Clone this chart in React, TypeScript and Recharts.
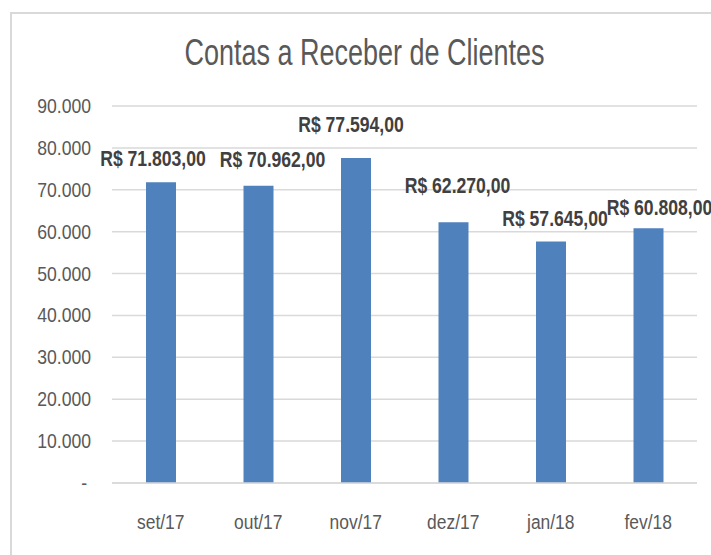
import React from 'react';
import { BarChart, Bar, XAxis, YAxis, CartesianGrid } from 'recharts';

const categories = ['set/17', 'out/17', 'nov/17', 'dez/17', 'jan/18', 'fev/18'];
const values = [71803, 70962, 77594, 62270, 57645, 60808];
const yTicks = [0, 10000, 20000, 30000, 40000, 50000, 60000, 70000, 80000, 90000];
const title = 'Contas a Receber de Clientes';

// label placement tweaks (styling, not data)
const labelDx = [-8, 14, -5, 4, 4, 11];
const labelDy = [-16, -19, -26, -29, -16, -13];

const data = categories.map((c, i) => ({ name: c, value: values[i] }));

const FONT = '"Liberation Sans", Arial, sans-serif';

const fmtThousands = (v: number) => {
  const s = String(Math.round(v));
  return s.replace(/\B(?=(\d{3})+(?!\d))/g, '.');
};
const fmtY = (v: number) => (v === 0 ? '-' : fmtThousands(v));
const fmtLabel = (v: number) => 'R$ ' + fmtThousands(v) + ',00';

const SText = (p: {
  x: number;
  y: number;
  sx: number;
  size: number;
  anchor: 'start' | 'middle' | 'end';
  fill: string;
  bold?: boolean;
  children: React.ReactNode;
}) => (
  <text
    transform={`translate(${p.x},${p.y}) scale(${p.sx},1)`}
    x={0}
    y={0}
    textAnchor={p.anchor}
    fontFamily={FONT}
    fontWeight={p.bold ? 'bold' : 'normal'}
    fontSize={p.size}
    fill={p.fill}
  >
    {p.children}
  </text>
);

const renderLabel = (props: any) => {
  const { x, y, width, index, value } = props;
  return (
    <SText
      x={x + width / 2 + labelDx[index]}
      y={y + labelDy[index]}
      sx={0.8}
      size={22}
      anchor="middle"
      fill="#404040"
      bold
    >
      {fmtLabel(value)}
    </SText>
  );
};

const YTick = (props: any) => {
  const { x, y, payload } = props;
  const isZero = payload.value === 0;
  return (
    <SText x={isZero ? x - 4 : x} y={y + 7} sx={0.88} size={20} anchor="end" fill="#595959">
      {fmtY(payload.value)}
    </SText>
  );
};

const XTick = (props: any) => {
  const { x, y, payload } = props;
  return (
    <SText x={x} y={y + 44} sx={0.83} size={21} anchor="middle" fill="#595959">
      {payload.value}
    </SText>
  );
};

export default function App() {
  return (
    <div style={{ position: 'absolute', left: 0, top: 0, width: 711, height: 555, background: '#fff', overflow: 'hidden' }}>
      <div
        style={{
          position: 'absolute',
          left: 10,
          top: 12,
          width: 760,
          height: 600,
          borderLeft: '2px solid #d9d9d9',
          borderTop: '2px solid #d9d9d9',
          boxSizing: 'border-box',
        }}
      />
      <div style={{ position: 'absolute', left: 0, top: 0 }}>
        <BarChart
          width={711}
          height={555}
          data={data}
          margin={{ top: 106, right: 14, bottom: 0, left: 0 }}
        >
          <text
            transform="translate(364.5,65) scale(0.75,1)"
            x={0}
            y={0}
            textAnchor="middle"
            fontFamily={FONT}
            fontSize={36}
            fill="#595959"
          >
            {title}
          </text>
          <CartesianGrid vertical={false} stroke="#d9d9d9" strokeWidth={1.5} />
          <XAxis
            dataKey="name"
            height={72}
            axisLine={{ stroke: '#d9d9d9', strokeWidth: 1.5 }}
            tickLine={false}
            tickSize={0}
            tick={<XTick />}
            interval={0}
          />
          <YAxis
            width={112}
            domain={[0, 90000]}
            ticks={yTicks}
            axisLine={false}
            tickLine={false}
            tickSize={0}
            tickMargin={21}
            tick={<YTick />}
            interval={0}
          />
          <Bar
            dataKey="value"
            fill="#4f81bd"
            barSize={30}
            isAnimationActive={false}
            label={renderLabel}
          />
        </BarChart>
      </div>
    </div>
  );
}
